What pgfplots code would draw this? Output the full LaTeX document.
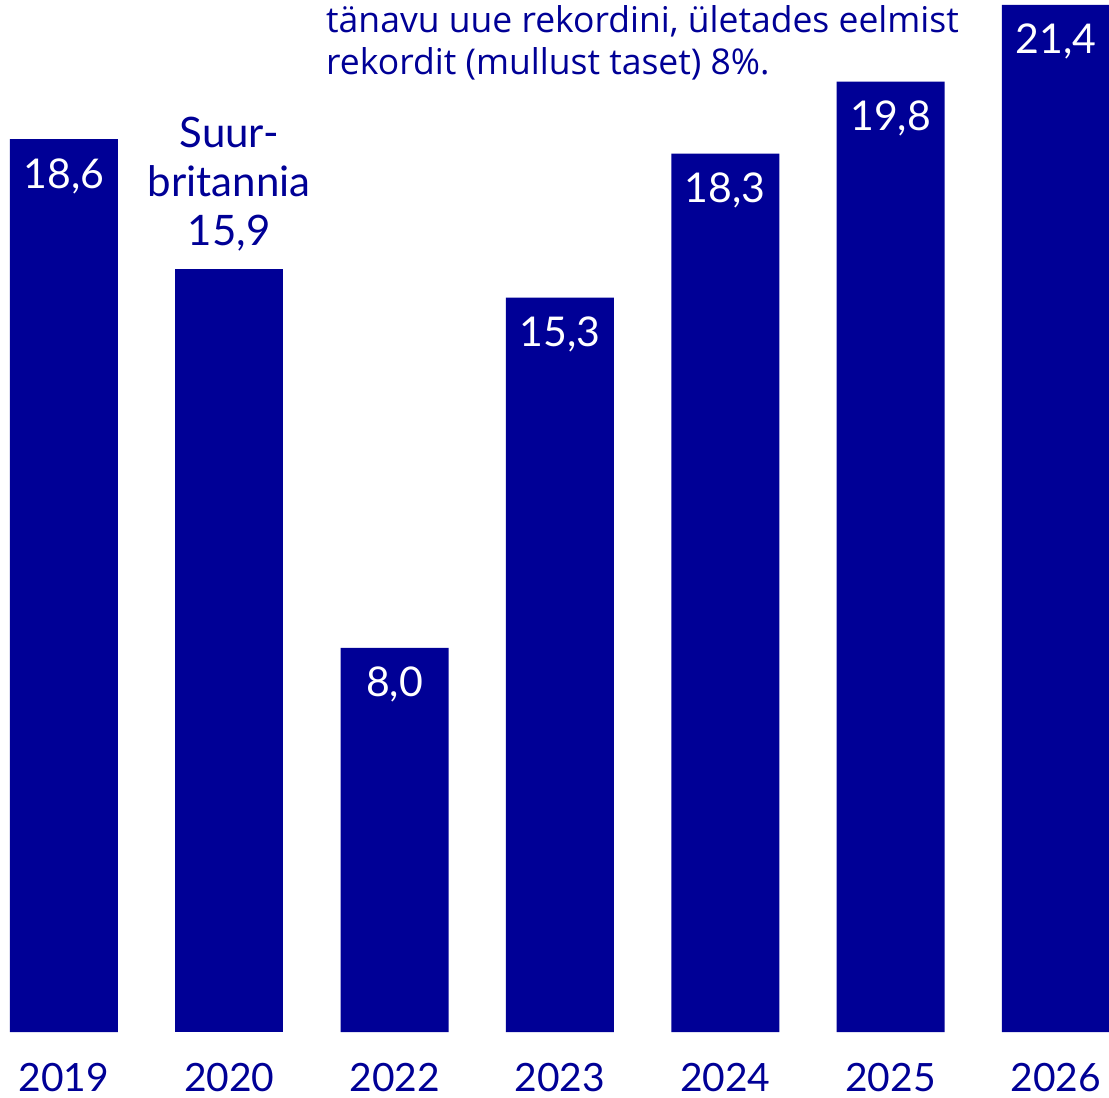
\documentclass[border=0pt]{standalone}
\usepackage{pgfplots}
\pgfplotsset{compat=1.18}
\usepackage{fontspec}
\setmainfont{Lato}
\newfontfamily\notefont{Open Sans}
\definecolor{navy}{RGB}{0,0,150}

\begin{document}
\begin{tikzpicture}
\useasboundingbox (0,0) rectangle (1109bp,1098bp);
\begin{axis}[
    at={(0bp,66bp)}, anchor=south west,
    scale only axis, width=1109bp, height=1032bp,
    xmin=-0.387, xmax=6.321, ymin=0, ymax=21.5,
    hide y axis,
    axis x line*=bottom,
    x axis line style={draw=none},
    major tick length=0pt,
    xtick={0,1,2,3,4,5,6},
    xticklabels={2019,2020,2022,2023,2024,2025,2026},
    xticklabel style={anchor=base, yshift=-59bp, text=navy,
        font=\fontsize{39bp}{39bp}\selectfont},
    ybar, bar width=108bp, bar shift=0pt,
    clip=false,
]
% in-bar labels
\addplot[fill=navy, draw=none,
    point meta=explicit symbolic,
    nodes near coords,
    nodes near coords style={anchor=north, yshift=-19bp, inner sep=0pt,
        text=white, font=\fontsize{41bp}{41bp}\selectfont}]
    coordinates {(0,18.6)[18,6] (2,8.0)[8,0] (3,15.3)[15,3]
                 (4,18.3)[18,3] (5,19.8)[19,8] (6,21.4)[21,4]};
% label above the bar
\addplot[fill=navy, draw=none,
    point meta=explicit symbolic,
    nodes near coords,
    nodes near coords style={anchor=south, yshift=17bp, inner sep=0pt,
        align=center, text=navy, font=\fontsize{42bp}{49bp}\selectfont}]
    coordinates {(1,15.9)[Suur-\\britannia\\15,9]};
\end{axis}
\node[anchor=base west, inner sep=0pt, text=navy,
    font=\notefont\fontsize{35.5bp}{42bp}\selectfont]
    at (326bp,1065bp) {tänavu uue rekordini, ületades eelmist};
\node[anchor=base west, inner sep=0pt, text=navy,
    font=\notefont\fontsize{35.5bp}{42bp}\selectfont]
    at (326bp,1023bp) {rekordit (mullust taset) 8\%.};
\end{tikzpicture}
\end{document}
